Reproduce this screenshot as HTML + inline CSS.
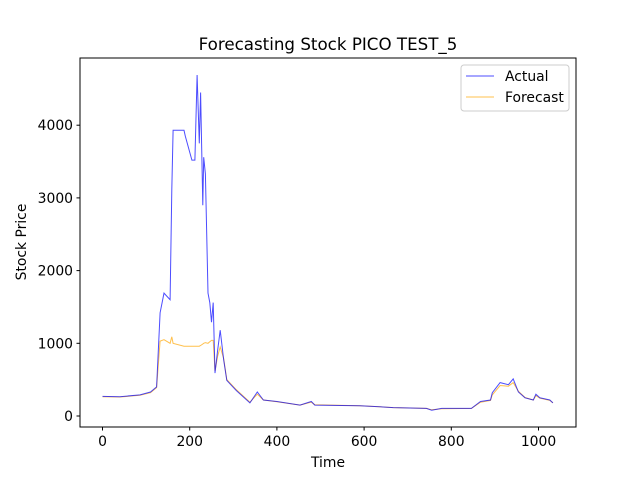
<!DOCTYPE html>
<html><head><meta charset="utf-8"><style>
body{margin:0;background:#fff}
svg text{font-family:"DejaVu Sans","Liberation Sans",sans-serif;fill:#000}
</style></head><body>
<svg id="chart" width="640" height="480" xmlns="http://www.w3.org/2000/svg">
<rect width="640" height="480" fill="#fff"/>
<text x="328" y="50" text-anchor="middle" font-size="16.7">Forecasting Stock PICO TEST_5</text>
<g id="plot"></g>
<rect x="80" y="58" width="496" height="369" fill="none" stroke="#000" stroke-width="1"/>
<g id="xticks"></g><g id="yticks"></g>
<text x="328" y="467" text-anchor="middle" font-size="13.9">Time</text>
<text transform="translate(26,242) rotate(-90)" text-anchor="middle" font-size="13.9">Stock Price</text>
<g>
<rect x="461" y="65" width="108" height="46" rx="3" fill="#fff" stroke="#ccc"/>
<line x1="466" y1="76" x2="494" y2="76" stroke="#0000ff" stroke-opacity="0.7"/>
<text x="505" y="81" font-size="13.9">Actual</text>
<line x1="466" y1="97" x2="494" y2="97" stroke="#ffa500" stroke-opacity="0.7"/>
<text x="505" y="102" font-size="13.9">Forecast</text>
</g>
</svg>
<script>
const times=[0,40,86,110,124,132,141,155,159,162,187,190,205,212,217,222,225,230,232,236,242,246,250,254,258,264,270,278,285,307,338,355,369,400,453,479,487,590,624,667,743,755,778,846,867,890,894,912,931,942,954,969,988,994,1003,1026,1033];
const actual=[270,265,290,330,400,1420,1690,1600,3110,3930,3930,3850,3520,3520,4690,3750,4450,2900,3560,3330,1690,1560,1290,1560,590,900,1180,770,490,350,180,330,220,200,150,200,150,140,130,115,105,80,105,105,200,220,320,460,430,510,330,250,220,300,250,220,180];
const forecast=[265,262,285,320,390,1030,1050,1000,1090,1000,960,960,960,960,960,960,970,990,1000,1010,1000,1020,1040,1040,620,820,950,790,500,360,190,300,220,195,150,190,155,140,130,115,105,85,100,105,190,215,290,420,410,460,340,255,220,280,245,215,180];
const xTicks=[0,200,400,600,800,1000];
const yTicks=[0,1000,2000,3000,4000];
const X=t=>102.5+t*0.436, Y=v=>416-v*0.0727;
const NS="http://www.w3.org/2000/svg";
const plot=document.getElementById('plot');
function line(vals,color,name){
  const p=document.createElementNS(NS,'polyline');
  p.setAttribute('points',times.map((t,i)=>X(t).toFixed(1)+','+Y(vals[i]).toFixed(1)).join(' '));
  p.setAttribute('fill','none');p.setAttribute('stroke',color);p.setAttribute('stroke-opacity','0.7');p.setAttribute('stroke-width','1');
  
  
  plot.appendChild(p);
}
line(forecast,'#ffa500','forecast-line');
line(actual,'#0000ff','actual-line');
const xg=document.getElementById('xticks');
xTicks.forEach(t=>{
  const l=document.createElementNS(NS,'line');
  l.setAttribute('x1',X(t));l.setAttribute('x2',X(t));l.setAttribute('y1',427);l.setAttribute('y2',430.5);l.setAttribute('stroke','#000');
  
  
  xg.appendChild(l);
  const tx=document.createElementNS(NS,'text');
  tx.setAttribute('x',X(t));tx.setAttribute('y',446);tx.setAttribute('text-anchor','middle');tx.setAttribute('font-size','13.9');
  tx.textContent=t;
  
  
  xg.appendChild(tx);
});
const yg=document.getElementById('yticks');
yTicks.forEach(v=>{
  const l=document.createElementNS(NS,'line');
  l.setAttribute('x1',76.5);l.setAttribute('x2',80);l.setAttribute('y1',Y(v));l.setAttribute('y2',Y(v));l.setAttribute('stroke','#000');
  
  
  yg.appendChild(l);
  const tx=document.createElementNS(NS,'text');
  tx.setAttribute('x',73);tx.setAttribute('y',Y(v)+5);tx.setAttribute('text-anchor','end');tx.setAttribute('font-size','13.9');
  tx.textContent=v;
  
  
  yg.appendChild(tx);
});
</script>
</body></html>
